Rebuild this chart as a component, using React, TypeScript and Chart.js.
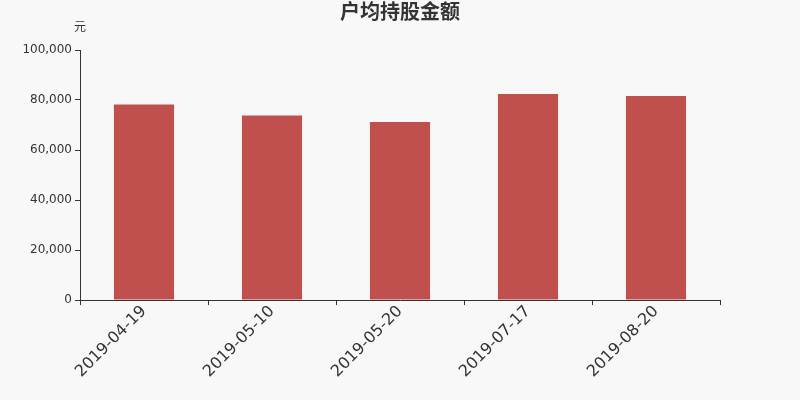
import React, { useEffect, useRef } from "react";
import { Chart, registerables } from "chart.js";

Chart.register(...registerables);

const categories = ["2019-04-19", "2019-05-10", "2019-05-20", "2019-07-17", "2019-08-20"];
const values = [78200, 73800, 71200, 82400, 81600];
const titleText = "户均持股金额";
const unitText = "元";
const yMin = 0;
const yMax = 100000;
const yStep = 20000;

const FONT = "'DejaVu Sans', 'Noto Sans CJK SC', sans-serif";

export default function App() {
  const ref = useRef<HTMLCanvasElement | null>(null);

  useEffect(() => {
    document.body.style.margin = "0";
    const canvas = ref.current!;
    const deco = {
      id: "deco",
      beforeDraw(chart: any) {
        const ctx = chart.ctx;
        ctx.save();
        ctx.fillStyle = "#f8f8f8";
        ctx.fillRect(0, 0, chart.width, chart.height);
        ctx.restore();
      },
      afterDraw(chart: any) {
        const ctx = chart.ctx;
        const area = chart.chartArea;
        ctx.save();
        ctx.fillStyle = "#333";
        ctx.textAlign = "center";
        ctx.textBaseline = "middle";
        ctx.font = `bold 20px ${FONT}`;
        ctx.fillText(titleText, chart.width / 2, 14);
        ctx.font = `12px ${FONT}`;
        ctx.fillText(unitText, area.left, 28);
        ctx.restore();
      },
    };
    const chart = new Chart(canvas, {
      type: "bar",
      data: {
        labels: categories,
        datasets: [
          {
            data: values,
            backgroundColor: "#c0504d",
            barPercentage: 0.47,
            categoryPercentage: 1,
          },
        ],
      },
      options: {
        animation: false,
        responsive: false,
        maintainAspectRatio: false,
        layout: { padding: { top: 50, right: 80, left: 0, bottom: 0 } },
        plugins: {
          legend: { display: false },
          title: { display: false },
          tooltip: { enabled: false },
        },
        scales: {
          x: {
            offset: true,
            grid: {
              offset: true,
              drawOnChartArea: false,
              drawTicks: true,
              tickLength: 5,
              color: "#333",
            },
            border: { display: true, color: "#333" },
            ticks: {
              color: "#333",
              font: { family: FONT, size: 16 },
              maxRotation: 45,
              minRotation: 45,
              autoSkip: false,
              padding: -3,
            },
            afterFit(scale: any) {
              scale.height = 100;
            },
          },
          y: {
            min: yMin,
            max: yMax,
            grid: {
              drawOnChartArea: false,
              drawTicks: true,
              tickLength: 5,
              color: "#333",
            },
            border: { display: true, color: "#333" },
            ticks: {
              stepSize: yStep,
              color: "#333",
              font: { family: FONT, size: 12 },
              padding: 3,
              callback: (v: any) => Number(v).toLocaleString("en-US"),
            },
            afterFit(scale: any) {
              scale.width = 80;
            },
          },
        },
      },
      plugins: [deco],
    });
    return () => chart.destroy();
  }, []);

  return (
    <div style={{ position: "fixed", left: 0, top: 0, width: 800, height: 400 }}>
      <canvas ref={ref} width={800} height={400} style={{ width: 800, height: 400 }} />
    </div>
  );
}
